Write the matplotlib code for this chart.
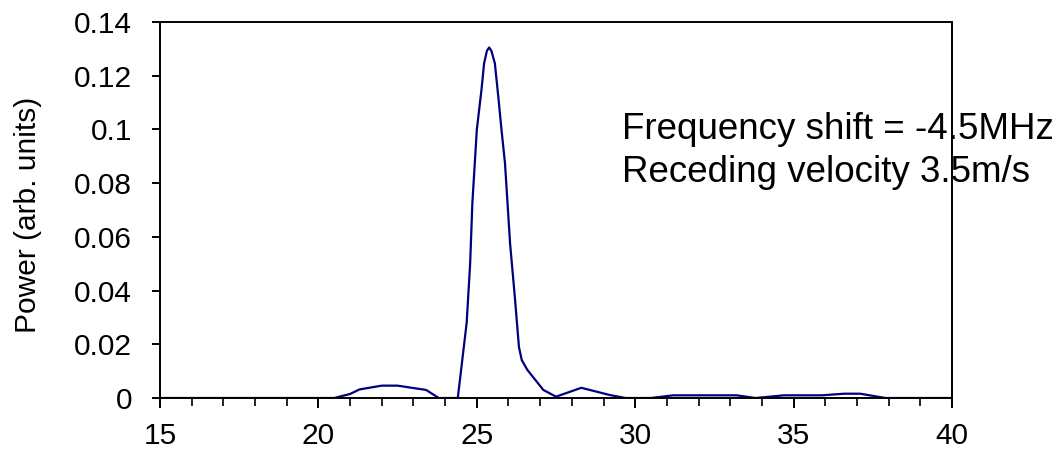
import matplotlib
matplotlib.use("Agg")
import matplotlib.pyplot as plt
from matplotlib.ticker import MultipleLocator, FuncFormatter

# Data
freq = [15.0, 20.5, 21.0, 21.3, 22.0, 22.5, 23.4, 23.8, 24.4, 24.68, 24.79,
        24.86, 25.0, 25.15, 25.23, 25.32, 25.39, 25.46, 25.57, 25.68, 25.78,
        25.89, 26.05, 26.2, 26.33, 26.42, 26.6, 27.1, 27.5, 28.3, 29.2, 29.7,
        30.5, 31.2, 33.2, 33.8, 34.7, 35.9, 36.6, 37.1, 37.9, 40.0]
power = [0.0, 0.0, 0.0015, 0.0032, 0.0046, 0.0046, 0.003, 0.0, 0.0, 0.028,
         0.0501, 0.0726, 0.0998, 0.115, 0.1246, 0.1293, 0.1305, 0.1293,
         0.1246, 0.112, 0.0998, 0.0874, 0.0576, 0.0377, 0.019, 0.0141,
         0.0104, 0.003, 0.0005, 0.0038, 0.0011, 0.0, 0.0, 0.001, 0.001, 0.0,
         0.001, 0.001, 0.0016, 0.0016, 0.0, 0.0]

x_ticks = [15, 20, 25, 30, 35, 40]
y_ticks = [0, 0.02, 0.04, 0.06, 0.08, 0.1, 0.12, 0.14]
y_label = "Power (arb. units)"
notes = ["Frequency shift = -4.5MHz", "Receding velocity 3.5m/s"]

plt.rcParams['font.family'] = ['Liberation Sans', 'DejaVu Sans']

fig = plt.figure(figsize=(10.6, 4.55), dpi=100)
ax = fig.add_axes([160 / 1060, 1 - 398 / 455, 792 / 1060, 376 / 455])

ax.plot(freq, power, color='#000080', linewidth=1.6, solid_joinstyle='round')

ax.set_xlim(15, 40)
ax.set_ylim(0, 0.14)
ax.set_xticks(x_ticks)
ax.xaxis.set_minor_locator(MultipleLocator(1))
ax.set_yticks(y_ticks)
ax.yaxis.set_major_formatter(FuncFormatter(lambda v, p: "%g" % round(v, 4)))

for s in ax.spines.values():
    s.set_linewidth(1.4)
    s.set_color('black')

ax.tick_params(axis='both', which='major', labelsize=21.5, width=1.4,
               direction='out', colors='black')
ax.tick_params(axis='y', which='major', length=6, pad=14)
ax.tick_params(axis='x', which='major', length=7.5, pad=10)
ax.tick_params(axis='x', which='minor', length=6, width=1.2, direction='out')

ax.set_ylabel(y_label, fontsize=21.5)
ax.yaxis.set_label_coords(-0.149, 0.487)

fig.text(621.7 / 1060, 1 - 139.3 / 455, notes[0], fontsize=26.5,
         va='baseline', ha='left')
fig.text(621.7 / 1060, 1 - 181.7 / 455, notes[1], fontsize=26.5,
         va='baseline', ha='left')

fig.savefig("out.png", dpi=100)
